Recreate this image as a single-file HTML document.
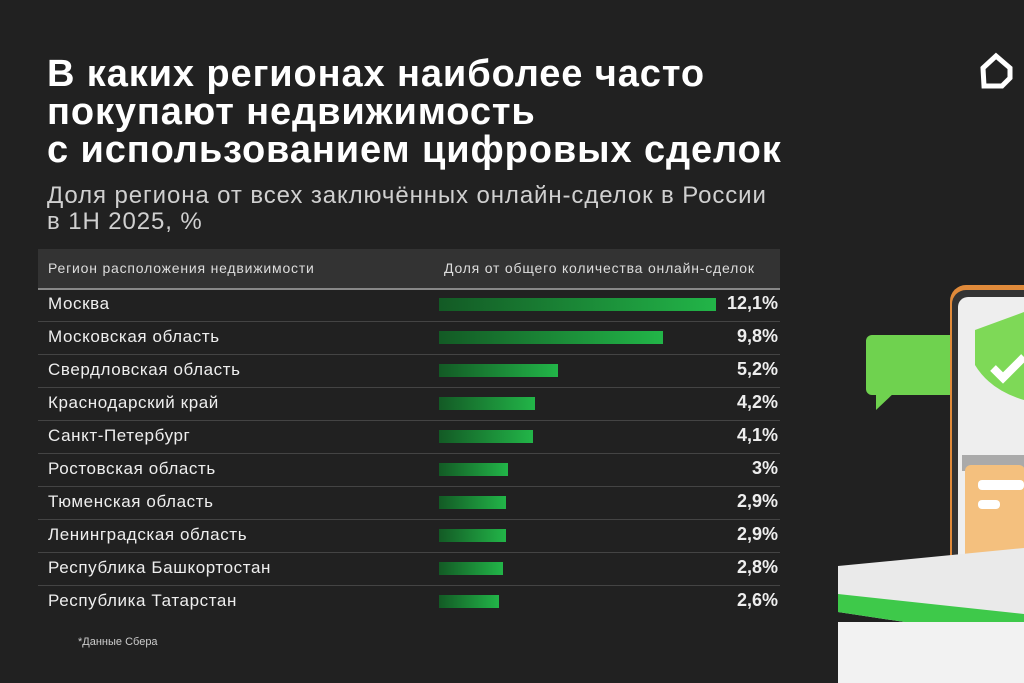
<!DOCTYPE html>
<html><head><meta charset="utf-8"><style>
body{margin:0;width:1024px;height:683px;background:#212121;overflow:hidden;position:relative;font-family:"Liberation Sans",sans-serif;color:#fff}
.t{position:absolute;left:47px;top:55px;font-size:38px;font-weight:bold;line-height:38px;letter-spacing:0.9px}
.s{position:absolute;left:47px;top:183px;font-size:24px;line-height:26px;color:#d0d0d0;letter-spacing:0.9px}
.hd{position:absolute;left:38px;top:249px;width:742px;height:39px;background:#333;border-bottom:2px solid #888;font-size:14px;color:#ddd;letter-spacing:0.8px}
.hd span{position:absolute;top:11px}
.row{position:absolute;left:38px;width:742px;height:32px;border-bottom:1px solid #444;font-size:17px;color:#eee;letter-spacing:0.6px}
.row .n{position:absolute;left:10px;top:5px}
.row .b{position:absolute;left:401px;top:9px;height:13px;background:linear-gradient(90deg,#135a25,#22b548)}
.row .v{position:absolute;right:2px;top:4px;font-weight:bold;font-size:18px;letter-spacing:0}
.f{position:absolute;left:78px;top:636px;font-size:11px;color:#ccc}
</style></head><body>
<div class="t">В каких регионах наиболее часто<br>покупают недвижимость<br>с использованием цифровых сделок</div>
<div class="s">Доля региона от всех заключённых онлайн-сделок в России<br>в 1Н 2025, %</div>
<div class="hd"><span style="left:10px">Регион расположения недвижимости</span><span style="left:406px">Доля от общего количества онлайн-сделок</span></div>
<div class="row" style="top:289px"><span class="n">Москва</span><div class="b" style="width:277px"></div><span class="v">12,1%</span></div>
<div class="row" style="top:322px"><span class="n">Московская область</span><div class="b" style="width:224px"></div><span class="v">9,8%</span></div>
<div class="row" style="top:355px"><span class="n">Свердловская область</span><div class="b" style="width:119px"></div><span class="v">5,2%</span></div>
<div class="row" style="top:388px"><span class="n">Краснодарский край</span><div class="b" style="width:96px"></div><span class="v">4,2%</span></div>
<div class="row" style="top:421px"><span class="n">Санкт-Петербург</span><div class="b" style="width:94px"></div><span class="v">4,1%</span></div>
<div class="row" style="top:454px"><span class="n">Ростовская область</span><div class="b" style="width:69px"></div><span class="v">3%</span></div>
<div class="row" style="top:487px"><span class="n">Тюменская область</span><div class="b" style="width:67px"></div><span class="v">2,9%</span></div>
<div class="row" style="top:520px"><span class="n">Ленинградская область</span><div class="b" style="width:67px"></div><span class="v">2,9%</span></div>
<div class="row" style="top:553px"><span class="n">Республика Башкортостан</span><div class="b" style="width:64px"></div><span class="v">2,8%</span></div>
<div class="row" style="top:586px;border-bottom:none"><span class="n">Республика Татарстан</span><div class="b" style="width:60px"></div><span class="v">2,6%</span></div>
<div class="f">*Данные Сбера</div>
<svg style="position:absolute;left:0;top:0" width="1024" height="683">
<path d="M983 68 L996 56 L1010 68 L1010 78 L1002 86 L984 86 Z" fill="none" stroke="#fff" stroke-width="5"/>
<rect x="866" y="335" width="90" height="60" rx="6" fill="#6fd24f"/>
<path d="M876 392 L876 410 L895 392 Z" fill="#6fd24f"/>
<rect x="950" y="285" width="90" height="330" rx="16" fill="#e08a3a"/>
<rect x="952" y="290" width="90" height="335" rx="14" fill="#333"/>
<rect x="958" y="297" width="80" height="315" rx="10" fill="#eeeeee"/>
<path d="M975 330 L1024 312 L1024 400 Q990 390 975 365 Z" fill="#7ed957"/>
<path d="M993 368 L1003 378 L1024 357" stroke="#fff" stroke-width="8" fill="none"/>
<rect x="962" y="455" width="70" height="16" fill="#aaa"/>
<rect x="965" y="465" width="60" height="110" rx="6" fill="#f4c07e"/>
<rect x="978" y="480" width="46" height="10" rx="4" fill="#fff"/>
<rect x="978" y="500" width="22" height="9" rx="4" fill="#fff"/>
<path d="M838 566 L1024 548 L1024 640 L838 612 Z" fill="#eaeaea"/>
<path d="M838 594 L1024 614 L1024 640 L838 612 Z" fill="#3ec94a"/>
<rect x="838" y="622" width="186" height="61" fill="#f2f2f2"/>
</svg>
</body></html>
